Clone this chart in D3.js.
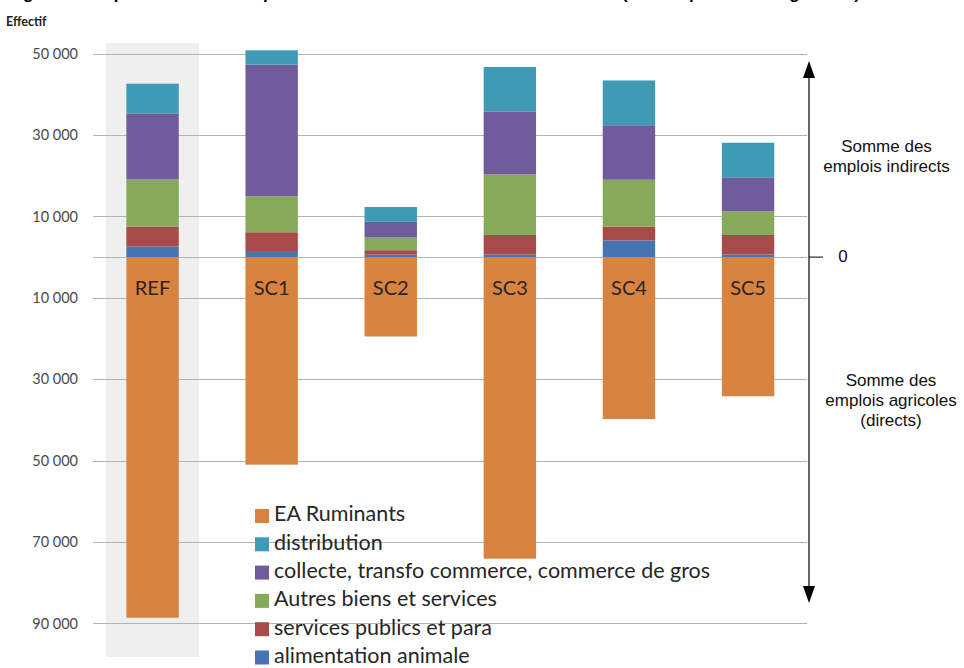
<!DOCTYPE html>
<html>
<head>
<meta charset="utf-8">
<script src="https://cdn.jsdelivr.net/npm/d3@7"></script>
<style>
  html, body { margin: 0; padding: 0; background: #fff; }
  svg { display: block; }
</style>
</head>
<body>
<svg id="chart" width="964" height="668"></svg>
<script>
// ---- data ----
const categories = ["REF", "SC1", "SC2", "SC3", "SC4", "SC5"];
const alimentationAnimale = [2600, 1500, 600, 600, 4100, 600];
const servicesPublics     = [4900, 4600, 1100, 4850, 3400, 4850];
const autresBiens         = [11700, 8800, 3100, 14850, 11500, 5800];
const collecte            = [16100, 32400, 3850, 15500, 13400, 8350];
const distribution        = [7300, 3500, 3650, 10900, 11000, 8500];
const eaRuminants         = [88600, 51000, 19500, 74100, 39800, 34200];
const tickValues = [50000, 30000, 10000, -10000, -30000, -50000, -70000, -90000];
const legendLabels = ["EA Ruminants", "distribution", "collecte, transfo commerce, commerce de gros",
                      "Autres biens et services", "services publics et para", "alimentation animale"];

const colors = {
  ea: "#d8833f", dist: "#3f9bb4", coll: "#705c9a", autres: "#86a95a", serv: "#a84a48", alim: "#4574b0"
};

const svg = d3.select("#chart");
const font = "Lato, 'Open Sans', sans-serif";

const x = d3.scaleBand().domain(categories).range([93, 807.6]).paddingInner(0.56).paddingOuter(0.28);
const y = d3.scaleLinear().domain([-90000, 50000]).range([623.4, 53.6]);

// title (cropped at top of image, as in the reference)
svg.append("text").attr("x", 8).attr("y", -1)
  .attr("font-family", "Arial, 'Liberation Sans', sans-serif").attr("font-weight", "bold")
  .attr("font-size", 17).attr("fill", "#000")
  .text("Figure 8 : emplois directs et emplois indirects dans les différents scénarios (EA = exploitations agricoles)");

// y label
svg.append("text").attr("x", 6).attr("y", 26)
  .attr("font-family", font).attr("font-weight", "bold").attr("font-size", 12.5).attr("fill", "#222")
  .text("Effectif");

// REF highlight band
svg.append("rect")
  .attr("x", x("REF") + x.bandwidth() / 2 - 46.5).attr("width", 93)
  .attr("y", 43).attr("height", 614).attr("fill", "#efefef");

// gridlines
const grid = svg.append("g");
grid.selectAll("line").data(tickValues.concat([0])).join("line")
  .attr("x1", 93).attr("x2", 807)
  .attr("y1", d => Math.round(y(d)) + 0.5).attr("y2", d => Math.round(y(d)) + 0.5)
  .attr("stroke", "#b3b3b3").attr("stroke-width", 1);

// y axis labels
const yAxis = d3.axisLeft(y).tickValues(tickValues).tickSize(0).tickPadding(0)
  .tickFormat(d => d3.format(",")(Math.abs(d)).replace(/,/g, " "));
const ya = svg.append("g").attr("transform", "translate(78,0)").call(yAxis);
ya.select(".domain").remove();
ya.selectAll("text").attr("font-family", font).attr("font-size", 14.5).attr("fill", "#4a4a4a");

// stacked positive bars
const keys = ["alim", "serv", "autres", "coll", "dist"];
const rows = categories.map((c, i) => ({
  cat: c, alim: alimentationAnimale[i], serv: servicesPublics[i], autres: autresBiens[i],
  coll: collecte[i], dist: distribution[i]
}));
const series = d3.stack().keys(keys)(rows);
const barsG = svg.append("g");
series.forEach(s => {
  barsG.append("g").attr("fill", colors[s.key])
    .selectAll("rect").data(s).join("rect")
    .attr("x", d => x(d.data.cat)).attr("width", x.bandwidth())
    .attr("y", d => y(d[1])).attr("height", d => y(d[0]) - y(d[1]));
});

// negative bars (direct jobs)
barsG.append("g").attr("fill", colors.ea)
  .selectAll("rect").data(categories).join("rect")
  .attr("x", d => x(d)).attr("width", x.bandwidth())
  .attr("y", y(0)).attr("height", (d, i) => y(-eaRuminants[i]) - y(0));

// category labels
svg.append("g").selectAll("text").data(categories).join("text")
  .attr("x", d => x(d) + x.bandwidth() / 2).attr("y", y(-8000))
  .attr("text-anchor", "middle").attr("dominant-baseline", "middle")
  .attr("font-family", font).attr("font-size", 20).attr("fill", "#262626")
  .text(d => d);

// right annotation axis
const ax = 809;
const ann = svg.append("g");
ann.append("line").attr("x1", ax).attr("x2", ax).attr("y1", 72).attr("y2", 590)
  .attr("stroke", "#000").attr("stroke-width", 1.2);
ann.append("path").attr("d", `M${ax},61 L${ax - 6},78 L${ax + 6},78 Z`).attr("fill", "#000");
ann.append("path").attr("d", `M${ax},603 L${ax - 6},586 L${ax + 6},586 Z`).attr("fill", "#000");
ann.append("line").attr("x1", ax).attr("x2", 823).attr("y1", y(0)).attr("y2", y(0))
  .attr("stroke", "#000").attr("stroke-width", 1);
const aFont = "Arial, 'Liberation Sans', sans-serif";
const aSize = 17;
ann.append("text").attr("x", 843).attr("y", y(0)).attr("text-anchor", "middle")
  .attr("dominant-baseline", "middle").attr("font-family", aFont).attr("font-size", aSize).attr("fill", "#111")
  .text("0");
[["Somme des", 147.5], ["emplois indirects", 167.5]].forEach(([t, yy]) => {
  ann.append("text").attr("x", 886.5).attr("y", yy).attr("text-anchor", "middle")
    .attr("dominant-baseline", "middle").attr("font-family", aFont).attr("font-size", aSize).attr("fill", "#111")
    .text(t);
});
[["Somme des", 382], ["emplois agricoles", 402], ["(directs)", 422]].forEach(([t, yy]) => {
  ann.append("text").attr("x", 891).attr("y", yy).attr("text-anchor", "middle")
    .attr("dominant-baseline", "middle").attr("font-family", aFont).attr("font-size", aSize).attr("fill", "#111")
    .text(t);
});

// legend
const legColors = [colors.ea, colors.dist, colors.coll, colors.autres, colors.serv, colors.alim];
const leg = svg.append("g");
legendLabels.forEach((t, i) => {
  const cy = 516 + i * 28.3;
  leg.append("rect").attr("x", 255).attr("y", cy - 7).attr("width", 14).attr("height", 14).attr("fill", legColors[i]);
  leg.append("text").attr("x", 274).attr("y", cy).attr("dominant-baseline", "middle")
    .attr("font-family", font).attr("font-size", 21.5).attr("fill", "#262626").text(t);
});
</script>
</body>
</html>
